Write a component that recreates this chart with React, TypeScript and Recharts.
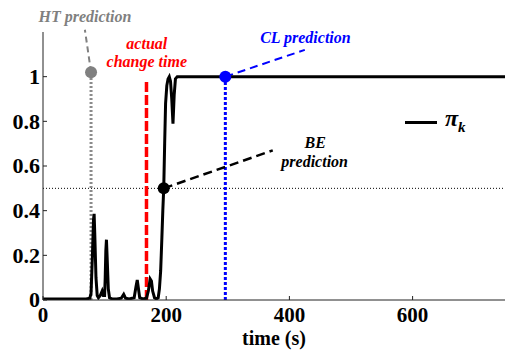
import React from "react"
import {
  LineChart,
  Line,
  XAxis,
  YAxis,
  ReferenceLine,
  ReferenceDot,
} from "recharts"

// pi_k posterior over time
const times = [
  0, 10, 20, 30, 40, 50, 60, 70, 76, 78, 80, 82, 83, 84, 86, 88, 90, 93, 96, 98, 100, 101, 102, 103,
  104, 106, 108, 112, 120, 127, 131, 134, 140, 148, 151, 153, 155, 157, 162, 168, 171, 174, 176,
  178, 181, 184, 187, 189, 191, 193, 194.5, 196, 197.5, 199, 201, 203, 205, 207, 209, 211, 213,
  215, 218, 222, 300, 400, 500, 600, 700, 750,
]
const piK = [
  0.005, 0.004, 0.005, 0.004, 0.005, 0.004, 0.005, 0.005, 0.008, 0.03, 0.18, 0.36, 0.386, 0.3, 0.1,
  0.02, 0.01, 0.02, 0.04, 0.02, 0.02, 0.1, 0.22, 0.27, 0.2, 0.05, 0.01, 0.005, 0.005, 0.008, 0.025,
  0.008, 0.005, 0.01, 0.06, 0.09, 0.05, 0.01, 0.005, 0.008, 0.04, 0.094, 0.085, 0.04, 0.01, 0.005,
  0.01, 0.05, 0.13, 0.28, 0.4, 0.5, 0.7, 0.88, 0.96, 0.99, 1.0, 0.98, 0.9, 0.79, 0.92, 0.99, 1.0,
  1.0, 1.0, 1.0, 1.0, 1.0, 1.0, 1.0,
]

const xTicks = [0, 200, 400, 600]
const yTicks = [0, 0.2, 0.4, 0.6, 0.8, 1]

// change-point predictions
const htTime = 78
const htLevel = 1.02
const changeTime = 168
const changeTop = 0.99
const clTime = 296
const clLevel = 1
const beTime = 196
const beLevel = 0.5
const threshold = 0.5

const data = times.map((t, i) => ({ t, pi: piK[i] }))

const FONT = "'Liberation Serif', 'Times New Roman', serif"

const YTick = (props: any) => {
  const { x, y, payload } = props
  const ax = x + 3
  return (
    <g>
      <line x1={ax} x2={ax + 4} y1={y} y2={y} stroke="#222" strokeWidth={1} />
      <text x={x} y={y} dy="0.34em" textAnchor="end" fontFamily={FONT} fontWeight="bold" fontSize={22} fill="#000">
        {payload.value}
      </text>
    </g>
  )
}

const XTick = (props: any) => {
  const { x, y, payload } = props
  const ay = y - 7
  return (
    <g>
      <line x1={x} x2={x} y1={ay} y2={ay - 4} stroke="#222" strokeWidth={1} />
      <text x={x} y={ay + 22} textAnchor="middle" fontFamily={FONT} fontWeight="bold" fontSize={21} fill="#000">
        {payload.value}
      </text>
    </g>
  )
}

const note = (value: string, fill: string, size = 16) => ({
  value,
  position: "center" as const,
  fill,
  fontSize: size,
  fontWeight: "bold",
  fontStyle: "italic",
  fontFamily: FONT,
})

export default function App() {
  return (
    <div style={{ position: "absolute", left: 0, top: 0, width: 507, height: 350, background: "#fff" }}>
      <LineChart width={507} height={350} data={data} margin={{ top: 32, right: 2, left: 0, bottom: 0 }}>
        <XAxis
          dataKey="t"
          type="number"
          domain={[0, 750]}
          ticks={xTicks}
          tickSize={0}
          tickMargin={7}
          tick={<XTick />}
          height={50}
          stroke="#222"
          allowDataOverflow
          label={{ value: "time (s)", position: "insideBottom", offset: 5, fontFamily: FONT, fontWeight: "bold", fontSize: 20, fill: "#000" }}
        />
        <YAxis
          type="number"
          domain={[0, 1.2]}
          ticks={yTicks}
          tickSize={0}
          tickMargin={3}
          tick={<YTick />}
          width={43}
          stroke="#222"
          allowDataOverflow
        />
        <ReferenceLine y={threshold} stroke="#000" strokeWidth={1} strokeDasharray="1 2" />

        {/* HT prediction */}
        <ReferenceLine segment={[{ x: htTime, y: 0 }, { x: htTime, y: htLevel }]} stroke="#8c8c8c" strokeWidth={3} strokeDasharray="2 2" />
        <ReferenceLine segment={[{ x: htTime, y: htLevel }, { x: 68, y: 1.21 }]} stroke="#808080" strokeWidth={2} strokeDasharray="6 4" ifOverflow="visible" />
        <ReferenceDot x={htTime} y={htLevel} r={6} fill="#808080" stroke="none" />
        <ReferenceDot x={68} y={1.27} r={0} stroke="none" fill="none" ifOverflow="visible" label={note("HT prediction", "#808080")} />

        {/* actual change time */}
        <ReferenceLine segment={[{ x: changeTime, y: 0 }, { x: changeTime, y: changeTop }]} stroke="#ff0000" strokeWidth={3.5} strokeDasharray="10 3" />
        <ReferenceDot x={168.5} y={1.15} r={0} stroke="none" fill="none" ifOverflow="visible" label={note("actual", "#ff0000")} />
        <ReferenceDot x={168.5} y={1.07} r={0} stroke="none" fill="none" ifOverflow="visible" label={note("change time", "#ff0000")} />

        {/* CL prediction */}
        <ReferenceLine segment={[{ x: clTime, y: 0 }, { x: clTime, y: clLevel }]} stroke="#0000ff" strokeWidth={3} strokeDasharray="3 2" />
        <ReferenceLine segment={[{ x: clTime, y: clLevel }, { x: 425, y: 1.12 }]} stroke="#0000ff" strokeWidth={2} strokeDasharray="8 5" ifOverflow="visible" />

        {/* BE prediction */}
        <ReferenceLine segment={[{ x: beTime, y: beLevel }, { x: 373, y: 0.67 }]} stroke="#000" strokeWidth={2.5} strokeDasharray="9 5" />
        <ReferenceDot x={442} y={0.705} r={0} stroke="none" fill="none" label={note("BE", "#000")} />
        <ReferenceDot x={441} y={0.62} r={0} stroke="none" fill="none" label={note("prediction", "#000")} />

        <Line type="linear" dataKey="pi" stroke="#000" strokeWidth={3} dot={false} isAnimationActive={false} />

        <ReferenceDot x={clTime} y={clLevel} r={6} fill="#0000ff" stroke="none" />
        <ReferenceDot x={426} y={1.175} r={0} stroke="none" fill="none" ifOverflow="visible" label={note("CL prediction", "#0000ff")} />
        <ReferenceDot x={beTime} y={beLevel} r={6} fill="#000" stroke="none" />
      </LineChart>
      <div style={{ position: "absolute", left: 405, top: 106, display: "flex", alignItems: "center", fontFamily: FONT, fontWeight: "bold" }}>
        <div style={{ width: 32, height: 3, background: "#000", marginRight: 8 }} />
        <span style={{ fontSize: 24, fontStyle: "italic", lineHeight: "24px" }}>
          π<sub style={{ fontSize: 15 }}>k</sub>
        </span>
      </div>
    </div>
  )
}
